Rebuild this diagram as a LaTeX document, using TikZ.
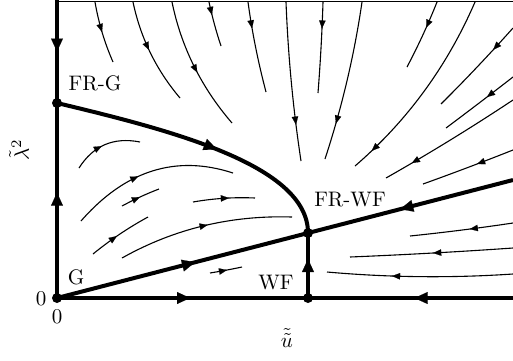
\documentclass[tikz,border=0pt]{standalone}
\usetikzlibrary{arrows.meta,decorations.markings,calc}
\tikzset{
 thickline/.style={line width=4pt},
 stream/.style={line width=1.1pt},
 borderline/.style={line width=0.9pt},
 dot/.style={circle,fill,inner sep=0pt,minimum size=10pt},
 tarrow/.style={postaction={decorate},decoration={markings,mark=at position #1 with {\arrow{Triangle[length=13pt,width=12pt,line width=0.1pt]}}}},
 sarrow/.style={postaction={decorate},decoration={markings,mark=at position #1 with {\arrow{Triangle[length=8pt,width=6.5pt,line width=0.1pt]}}}},
 lab/.style={scale=2.1, inner sep=0pt}
}
% #1 arrow position, #2 curve parameter of the middle point, #3 start, #4 middle, #5 end
\newcommand\flowline[5]{%
 \pgfmathsetmacro\qa{1/(2*#2*(1-#2))}%
 \pgfmathsetmacro\qb{(1-#2)*(1-#2)*\qa}%
 \pgfmathsetmacro\qc{#2*#2*\qa}%
 \coordinate (fq) at ($\qa*(#4)-\qb*(#3)-\qc*(#5)$);
 \draw[stream,sarrow=#1] (#3) .. controls ($(#3)!2/3!(fq)$) and ($(#5)!2/3!(fq)$) .. (#5);
}
\begin{document}
\begin{tikzpicture}[x=1pt,y=-1pt]
\useasboundingbox (0,0) rectangle (513,360);
% named points
\coordinate (TL) at (57,1);
\coordinate (TR) at (513,1);
\coordinate (LT) at (57,0);
\coordinate (BR) at (513,298);
\coordinate (RE) at (513,180);
\node[dot] (G) at (57,298) {};
\node[dot] (FRG) at (57,103) {};
\node[dot] (WF) at (308,298) {};
\node[dot] (FRWF) at (308,233) {};
% border
\draw[borderline] (TL) -- (TR);
% thick separatrices
\draw[thickline,tarrow=0.5] (LT) -- (FRG.center);
\draw[thickline,tarrow=0.54] (G.center) -- (FRG.center);
\draw[thickline,tarrow=0.53] (G.center) -- (WF.center);
\draw[thickline,tarrow=0.48] (BR) -- (WF.center);
\draw[thickline,tarrow=0.6] (WF.center) -- (FRWF.center);
\draw[thickline,tarrow=0.55] (G.center) -- (FRWF.center);
\draw[thickline,tarrow=0.55] (RE) -- (FRWF.center);
\draw[thickline,tarrow=0.56] (FRG.center) .. controls (170,130) and (308,165) .. (FRWF.center);
% streamlines
\flowline{0.49}{0.49}{95,2}{102,32}{113,62}
\flowline{0.47}{0.47}{133,2}{149,50}{180,98}
\flowline{0.55}{0.55}{172,2}{197,72}{232,123}
\flowline{0.29}{0.29}{209,2}{212,15}{221,46}
\flowline{0.29}{0.29}{248,2}{252,28}{266,92}
\flowline{0.77}{0.77}{286,2}{296,125}{301,161}
\flowline{0.29}{0.29}{323,2}{322,28}{318,93}
\flowline{0.77}{0.77}{362,2}{336,123}{325,159}
\flowline{0.39}{0.39}{437,2}{426,28}{407,67}
\flowline{0.89}{0.45}{475,2}{430,83}{355,166}
\flowline{0.28}{0.28}{513,28}{493,50}{441,104}
\flowline{0.39}{0.39}{513,77}{487,97}{446,128}
\flowline{0.80}{0.80}{513,100}{412,163}{386,178}
\flowline{0.40}{0.40}{513,150}{477,164}{423,184}
\flowline{0.42}{0.42}{513,223}{470,229}{410,236}
\flowline{0.49}{0.49}{513,248}{433,253}{350,257}
\flowline{0.65}{0.65}{513,274}{392,276}{327,272}
\flowline{0.45}{0.45}{79,168}{102,146}{140,142}
\flowline{0.43}{0.66}{81,221}{177,166}{233,173}
\flowline{0.49}{0.49}{122,206}{140,197}{159,189}
\flowline{0.58}{0.58}{193,202}{229,198}{255,198}
\flowline{0.45}{0.45}{93,254}{117,236}{148,217}
\flowline{0.52}{0.52}{122,258}{207,225}{292,217}
\flowline{0.53}{0.53}{210,273}{227,270}{242,267}
% labels
\node[lab] (lFRG) at (95,83) {FR-G};
\node[lab] (lFRWF) at (350,200) {FR-WF};
\node[lab] (lG) at (76,277) {G};
\node[lab] (lWF) at (276,283) {WF};
\node[lab] (l0a) at (41,299) {0};
\node[lab] (l0b) at (57,317) {0};
\node[lab] (lu) at (287,338) {$\tilde{\tilde{u}}$};
\node[lab,rotate=90] (ll) at (19,150) {$\tilde{\lambda}^2$};
\end{tikzpicture}
\end{document}
